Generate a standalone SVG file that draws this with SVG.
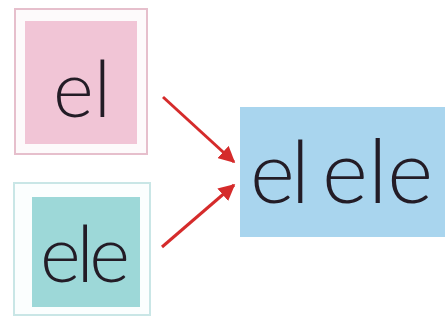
<svg xmlns="http://www.w3.org/2000/svg" width="445" height="333" viewBox="0 0 445 333">
<style>
.t{font-family:Lato,"Open Sans",sans-serif;font-weight:300;fill:#231c26;}
.arr{stroke:#d52b2b;stroke-width:3;fill:none;}
</style>
<defs>
<marker id="ah" viewBox="0 0 10 10" refX="9" refY="5" markerWidth="5.5" markerHeight="5.5" orient="auto" markerUnits="strokeWidth">
<path d="M0,0 L10,5 L0,10 z" fill="#d52b2b"/>
</marker>
</defs>
<rect width="445" height="333" fill="#ffffff"/>
<g id="node-el">
<rect x="15" y="9" width="132" height="145" fill="#fdfafb" stroke="#e6bfcc" stroke-width="2"/>
<rect x="25" y="21" width="112" height="123" fill="#f1c5d6"/>
<text class="t" x="53" y="117" font-size="78">el</text>
</g>
<g id="node-ele">
<rect x="14" y="183" width="136" height="132" fill="#fbfefe" stroke="#c9e6e6" stroke-width="2"/>
<rect x="32" y="197" width="108" height="110" fill="#9dd8d8"/>
<text class="t" x="40" y="282" font-size="78" textLength="90">ele</text>
</g>
<g id="node-el-ele">
<rect x="240" y="107" width="205" height="130" fill="#a9d5ee"/>
<text class="t" x="250" y="203" font-size="86" letter-spacing="-4">el</text>
<text class="t" x="322" y="203" font-size="88">ele</text>
</g>
<g id="connectors">
<line class="arr" x1="163" y1="97" x2="234" y2="162" marker-end="url(#ah)"/>
<line class="arr" x1="162" y1="247" x2="234" y2="185" marker-end="url(#ah)"/>
</g>
</svg>
